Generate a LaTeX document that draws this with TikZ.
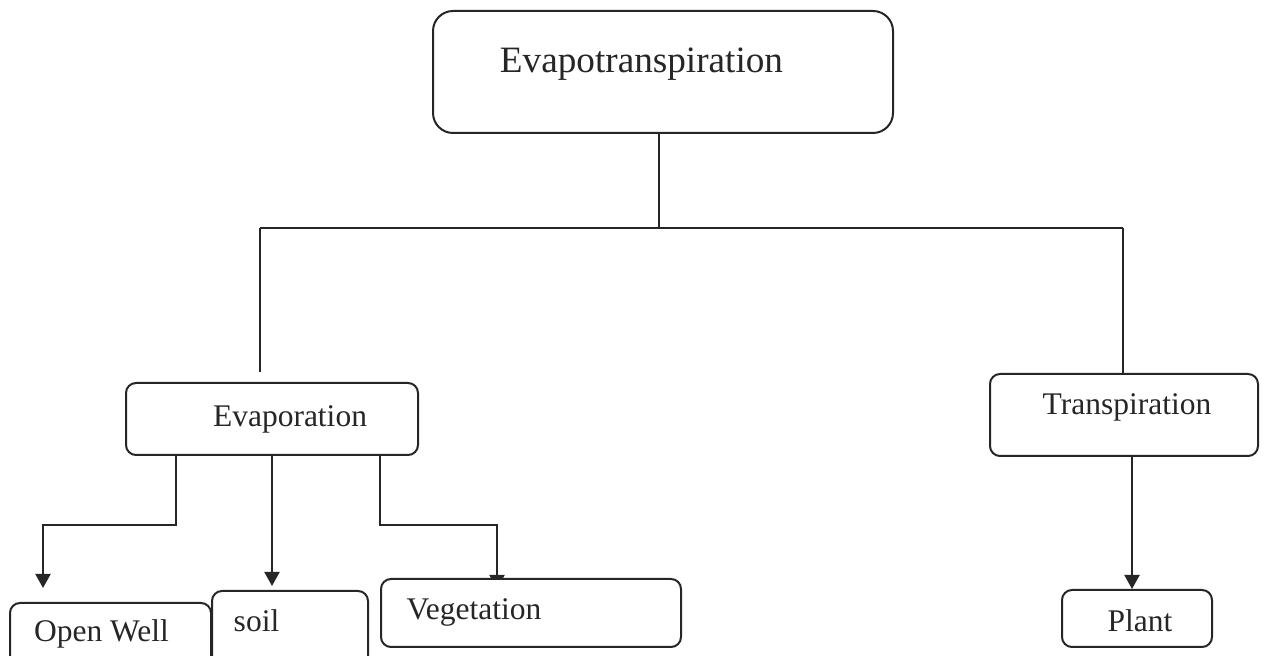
\documentclass[tikz,border=0pt]{standalone}
\usepackage{fontspec}
\setmainfont{Liberation Serif}
\usetikzlibrary{arrows.meta,backgrounds}

\tikzset{
  box/.style={draw=black!85, line width=1pt, rounded corners=5pt, fill=white, inner sep=0pt},
  lab/.style={font=\fontsize{15.75pt}{18pt}\selectfont, text=black!85, inner sep=0pt, anchor=base},
  line/.style={draw=black!85, line width=1pt},
  arr/.style={line, -{Triangle[length=7pt,width=7.5pt]}},
}

\begin{document}
\begin{tikzpicture}[x=0.5pt, y=-0.5pt]
  % page, 1264 x 656
  \clip (0,0) rectangle (1264,656);

  % boxes
  \node[box, rounded corners=10pt, minimum width=230pt, minimum height=61pt] (evt) at (663,72) {};
  \node[box, minimum width=146pt, minimum height=36pt] (evap) at (272,419) {};
  \node[box, minimum width=134pt, minimum height=41pt] (trans) at (1124,415) {};
  \node[box, minimum width=100.5pt, minimum height=50pt] (well) at (110.5,653) {};
  \node[box, minimum width=78pt, minimum height=50pt] (soil) at (290,641) {};
  \node[box, minimum width=150pt, minimum height=34pt] (veg) at (531,613) {};
  \node[box, minimum width=75pt, minimum height=28.5pt] (plant) at (1137,618.5) {};

  % texts
  \node[lab, font=\fontsize{18.6pt}{21pt}\selectfont] (evt-t) at (641.5,73) {Evapotranspiration};
  \node[lab] (evap-t) at (290,427) {Evaporation};
  \node[lab] (trans-t) at (1127,415) {Transpiration};
  \node[lab] (well-t) at (101.5,642) {Open Well};
  \node[lab] (soil-t) at (256.5,632) {soil};
  \node[lab] (veg-t) at (474,620) {Vegetation};
  \node[lab] (plant-t) at (1140,632) {Plant};

  % connectors
  \coordinate (hub) at (659,228);
  \coordinate (lft) at (260,228);
  \coordinate (rgt) at (1123,228);
  \begin{scope}[on background layer]
    \draw[line] (evt.south -| hub) -- (hub);
    \draw[line] (lft) -- (rgt);
    \draw[line, shorten >=5pt] (lft) -- (lft |- evap.north);
    \draw[line] (rgt) -- (rgt |- trans.north);

    \draw[arr, shorten >=7pt] ([xshift=-48pt]evap.south) -- ++(0,69) -| ([xshift=-33.75pt]well.north);
    \draw[arr, shorten >=2pt] (evap.south) -- (evap.south |- soil.north);
    \draw[arr, shorten >=-5.5pt] ([xshift=54pt]evap.south) -- ++(0,69) -| ([xshift=-17pt]veg.north);
    \draw[arr] ([xshift=4pt]trans.south) -- ([xshift=4pt]trans.south |- plant.north);
  \end{scope}
\end{tikzpicture}
\end{document}
